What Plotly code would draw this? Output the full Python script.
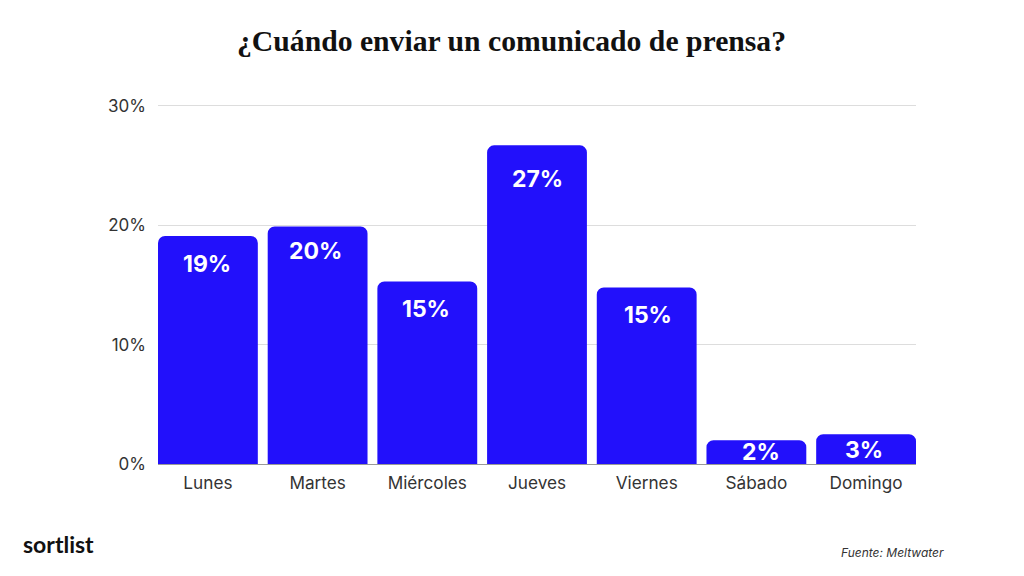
import plotly.graph_objects as go

days = ["Lunes", "Martes", "Miércoles", "Jueves", "Viernes", "Sábado", "Domingo"]
shares = [19.1, 19.9, 15.3, 26.7, 14.8, 2.0, 2.5]
labels = ["19%", "20%", "15%", "27%", "15%", "2%", "3%"]
tick_vals = [0, 10, 20, 30]
tick_text = ["0%", "10%", "20%", "30%"]
title = "¿Cuándo enviar un comunicado de prensa?"
source = "Fuente: Meltwater"
brand = "sortlist"

label_drop = [28, 24, 28, 34, 28, 12, 16]
label_nudge = [-1, -2, -1, 0, 1, 5, -2]

PX0, PW, PY0, PH = 158, 758, 464, 361


def px(x):
    return (x - PX0) / PW


def py(y):
    return (PY0 - y) / PH


fig = go.Figure(go.Bar(x=days, y=shares, marker=dict(color="#2210FB", cornerradius=7, line_width=0),
                       hoverinfo="skip"))
for d, s, l, o, n in zip(days, shares, labels, label_drop, label_nudge):
    fig.add_annotation(x=d, y=s, text=l, showarrow=False, yanchor="middle", yshift=-o, xshift=n,
                       font=dict(family="Inter", size=23, color="white", weight=700))

fig.add_annotation(xref="paper", yref="paper", x=px(511), xanchor="center", y=py(41), yanchor="middle",
                   text=title, showarrow=False,
                   font=dict(family="Liberation Serif", size=29.7, color="#111111", weight=700))
fig.add_annotation(xref="paper", yref="paper", x=px(946), xanchor="right", y=py(552), yanchor="middle",
                   text=source, showarrow=False,
                   font=dict(family="Inter", size=12, color="#333333", style="italic"))
fig.add_annotation(xref="paper", yref="paper", x=px(21), xanchor="left", y=py(544), yanchor="middle",
                   text=brand, showarrow=False,
                   font=dict(family="Lato", size=23, color="#111111", weight=700))

fig.update_layout(
    width=1024, height=576, autosize=False,
    margin=dict(l=150, r=116, t=95, b=120),
    paper_bgcolor="white", plot_bgcolor="white",
    bargap=0.09, showlegend=False,
    xaxis=dict(type="category", range=[-0.455, 6.455], showgrid=False, ticks="", showline=True,
               linecolor="#999999", linewidth=1, ticklabelstandoff=3,
               tickfont=dict(family="Inter", size=17.2, color="#333333")),
    yaxis=dict(range=[0, 30.25], tickvals=tick_vals, ticktext=tick_text, showgrid=True, gridcolor="#DDDDDD",
               gridwidth=1, zeroline=False, ticks="", ticklen=0, ticklabelstandoff=11,
               tickfont=dict(family="Inter", size=17, color="#333333")),
)
fig.write_html("out.html", config=dict(displayModeBar=False))
